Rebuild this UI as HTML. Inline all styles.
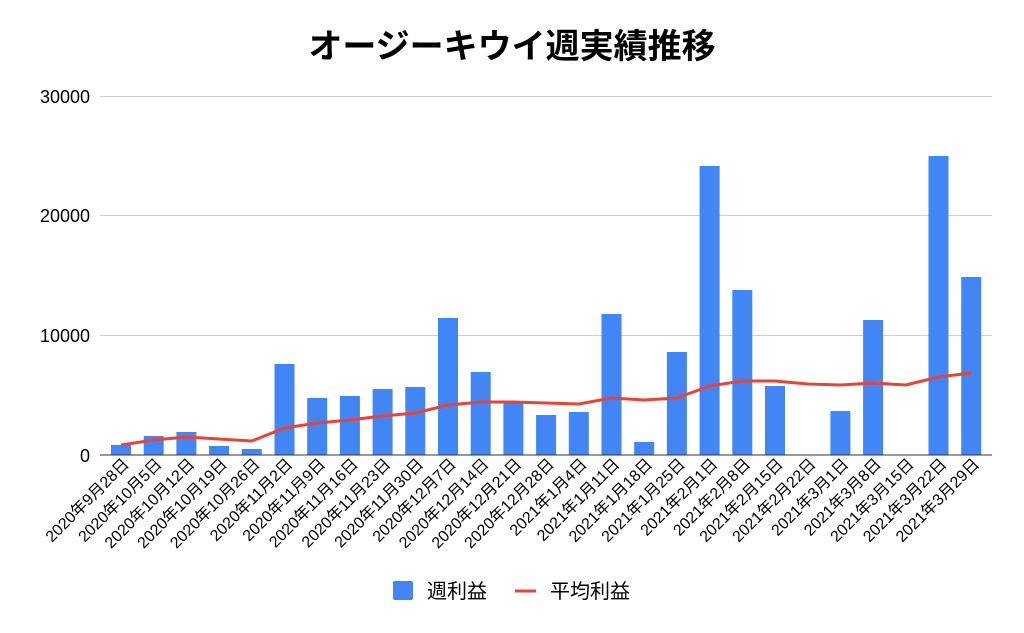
<!DOCTYPE html>
<html><head><meta charset="utf-8"><style>
html,body{margin:0;padding:0;background:#fff;}
svg{display:block;font-family:"Liberation Sans","Noto Sans CJK JP",sans-serif;}
</style></head><body>
<svg width="1024" height="633" viewBox="0 0 1024 633" xmlns="http://www.w3.org/2000/svg">
<text x="512" y="58" text-anchor="middle" font-size="34" font-weight="bold" fill="#000">オージーキウイ週実績推移</text>
<g stroke="#ccc" stroke-width="1">
<line x1="100" y1="96.5" x2="992" y2="96.5"/>
<line x1="100" y1="215.5" x2="992" y2="215.5"/>
<line x1="100" y1="335.5" x2="992" y2="335.5"/>
</g>
<g font-size="18" fill="#000" text-anchor="end">
<text x="90" y="103">30000</text>
<text x="90" y="222">20000</text>
<text x="90" y="342">10000</text>
<text x="90" y="462">0</text>
</g>
<g id="bars" fill="#4285f4"></g>
<line x1="100" y1="455" x2="992" y2="455" stroke="#333" stroke-width="1"/>
<polyline id="line" fill="none" stroke="#ea4335" stroke-width="3" stroke-linejoin="round"/>
<g id="xl" font-size="16" fill="#000"></g>
<rect x="393" y="581" width="20" height="19" rx="2" fill="#4285f4"/>
<text x="427" y="598" font-size="20">週利益</text>
<line x1="515" y1="591" x2="536" y2="591" stroke="#ea4335" stroke-width="3"/>
<text x="550" y="598" font-size="20">平均利益</text>
<script>
var tops=[445,436,432,446,449,364,398,396,389,387,318,372,402,415,412,314,442,352,166,290,386,455,411,320,455,156,277];
var ln=[445,440,437,439,441,428,423,420,416,413,405,402,402,403,404,398,400,398,386,381,381,384,385,383,385,377,373];
var labels=["2020年9月28日","2020年10月5日","2020年10月12日","2020年10月19日","2020年10月26日","2020年11月2日","2020年11月9日","2020年11月16日","2020年11月23日","2020年11月30日","2020年12月7日","2020年12月14日","2020年12月21日","2020年12月28日","2021年1月4日","2021年1月11日","2021年1月18日","2021年1月25日","2021年2月1日","2021年2月8日","2021年2月15日","2021年2月22日","2021年3月1日","2021年3月8日","2021年3月15日","2021年3月22日","2021年3月29日"];
var ns="http://www.w3.org/2000/svg",b=document.getElementById("bars"),xl=document.getElementById("xl"),pts=[];
for(var i=0;i<27;i++){var cx=121+i*32.7;
if(tops[i]<455){var r=document.createElementNS(ns,"rect");r.setAttribute("x",cx-10);r.setAttribute("y",tops[i]);r.setAttribute("width",20);r.setAttribute("height",455-tops[i]);b.appendChild(r);}
pts.push(cx+","+ln[i]);
var t=document.createElementNS(ns,"text");t.setAttribute("text-anchor","end");t.setAttribute("transform","translate("+(cx+9)+",465) rotate(-45)");t.textContent=labels[i];xl.appendChild(t);}
document.getElementById("line").setAttribute("points",pts.join(" "));
</script>
</svg>
</body></html>
